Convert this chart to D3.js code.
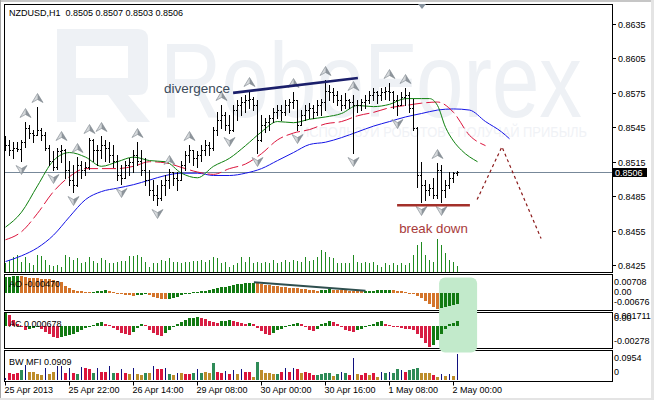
<!DOCTYPE html>
<html><head><meta charset="utf-8">
<script src="https://cdn.jsdelivr.net/npm/d3@7/dist/d3.min.js"></script>
<style>html,body{margin:0;padding:0;background:#fff;overflow:hidden}svg{display:block}</style>
</head><body>
<script>
// ---------------- DATA ----------------
const symbolTitle = "NZDUSD,H1  0.8505 0.8507 0.8503 0.8506";
const timeLabels = ['25 Apr 2013','25 Apr 22:00','26 Apr 14:00','29 Apr 08:00','30 Apr 00:00','30 Apr 16:00','1 May 08:00','2 May 00:00'];
const timeIdx = [0,16,32,48,64,80,96,112];
const priceTicks = [0.8635,0.8605,0.8575,0.8545,0.8515,0.8485,0.8455,0.8425];
const lastPrice = 0.8506;

const open = [.8533,.8530,.8525,.8527,.8526,.8532,.8544,.8540,.8538,.8543,
 .8538,.8527,.8516,.8510,.8524,.8525,.8508,.8499,.8495,.8512,
 .8508,.8510,.8534,.8525,.8525,.8530,.8527,.8521,.8516,.8503,
 .8501,.8512,.8515,.8521,.8516,.8508,.8499,.8490,.8486,.8483,
 .8495,.8499,.8506,.8501,.8499,.8512,.8521,.8525,.8518,.8521,
 .8525,.8530,.8527,.8543,.8551,.8556,.8547,.8543,.8560,.8564,
 .8567,.8569,.8570,.8564,.8534,.8547,.8550,.8553,.8558,.8560,
 .8558,.8564,.8567,.8569,.8547,.8556,.8560,.8562,.8558,.8564,
 .8567,.8577,.8576,.8573,.8569,.8564,.8569,.8567,.8564,.8564,
 .8567,.8569,.8573,.8576,.8573,.8576,.8577,.8576,.8569,.8564,
 .8571,.8573,.8562,.8544,.8503,.8495,.8490,.8492,.8486,.8508,
 .8490,.8495,.8501,.8505];
const high = [.8537,.8534,.8532,.8532,.8534,.8550,.8547,.8543,.8563,.8544,
 .8541,.8530,.8524,.8527,.8530,.8526,.8516,.8512,.8519,.8516,
 .8515,.8536,.8535,.8530,.8537,.8534,.8532,.8530,.8521,.8512,
 .8516,.8518,.8525,.8532,.8525,.8518,.8508,.8499,.8495,.8499,
 .8503,.8509,.8506,.8506,.8516,.8524,.8530,.8525,.8524,.8530,
 .8534,.8532,.8545,.8558,.8564,.8558,.8556,.8564,.8569,.8571,
 .8573,.8577,.8571,.8569,.8556,.8553,.8556,.8562,.8564,.8564,
 .8569,.8570,.8576,.8569,.8560,.8564,.8566,.8564,.8569,.8570,
 .8586,.8582,.8579,.8577,.8573,.8575,.8570,.8573,.8569,.8570,
 .8573,.8577,.8579,.8577,.8579,.8580,.8584,.8577,.8573,.8576,
 .8579,.8576,.8570,.8545,.8515,.8499,.8496,.8501,.8514,.8512,
 .8499,.8506,.8506,.8507];
const low = [.8525,.8521,.8518,.8524,.8516,.8528,.8536,.8532,.8538,.8534,
 .8525,.8512,.8508,.8509,.8515,.8501,.8495,.8489,.8494,.8501,
 .8503,.8509,.8516,.8512,.8518,.8516,.8515,.8510,.8499,.8496,
 .8501,.8503,.8506,.8512,.8503,.8495,.8486,.8482,.8477,.8482,
 .8486,.8492,.8495,.8490,.8499,.8508,.8515,.8512,.8510,.8516,
 .8521,.8521,.8525,.8538,.8544,.8543,.8540,.8542,.8551,.8556,
 .8558,.8562,.8560,.8523,.8533,.8541,.8543,.8550,.8553,.8551,
 .8556,.8558,.8562,.8543,.8547,.8551,.8553,.8553,.8556,.8556,
 .8560,.8569,.8567,.8564,.8560,.8562,.8562,.8523,.8558,.8560,
 .8562,.8566,.8569,.8566,.8569,.8570,.8569,.8562,.8556,.8564,
 .8564,.8558,.8543,.8493,.8480,.8482,.8486,.8483,.8483,.8480,
 .8484,.8492,.8497,.8503];
const close = [.8530,.8525,.8527,.8526,.8532,.8544,.8540,.8538,.8543,.8538,
 .8527,.8516,.8510,.8524,.8525,.8508,.8499,.8495,.8512,.8508,
 .8510,.8534,.8525,.8525,.8530,.8527,.8521,.8516,.8503,.8501,
 .8512,.8515,.8521,.8516,.8508,.8499,.8490,.8486,.8483,.8495,
 .8499,.8506,.8501,.8499,.8512,.8521,.8525,.8518,.8521,.8525,
 .8530,.8527,.8543,.8551,.8556,.8547,.8543,.8560,.8564,.8567,
 .8569,.8570,.8564,.8534,.8547,.8550,.8553,.8558,.8560,.8558,
 .8564,.8567,.8569,.8547,.8556,.8560,.8562,.8558,.8564,.8567,
 .8577,.8576,.8573,.8569,.8564,.8569,.8567,.8564,.8564,.8567,
 .8569,.8573,.8576,.8573,.8576,.8577,.8576,.8569,.8564,.8571,
 .8573,.8562,.8544,.8503,.8495,.8490,.8492,.8486,.8508,.8490,
 .8495,.8501,.8505,.8506];
const volume = [348,480,612,680,412,612,348,280,680,640,
 480,280,240,280,212,680,612,480,548,372,
 412,588,440,372,548,480,348,348,412,452,
 440,640,640,668,612,412,212,372,348,480,
 452,548,412,412,348,412,412,452,452,480,
 412,480,612,548,372,412,212,280,348,612,
 412,588,348,412,348,412,348,480,348,412,
 480,412,480,452,412,612,440,480,600,880,
 812,612,548,348,372,372,348,680,412,348,
 412,348,412,280,212,348,280,348,280,348,
 280,348,680,1080,1212,680,480,412,1308,1080,
 748,480,412,240];

// Alligator (bar index, price)
const jawIdx = [0,4,8,12,16,20,24,28,32,36,40,44,48,52,56,60,64,68,72,76,80,84,88,92,96,100,104,108,112,116,120,124,126];
const jaw = [.8428,.8433,.8440,.8451,.8467,.8482,.8489,.8492,.8495,.8499,.8503,.8505,.8505,.8503,.8503,.8505,.8509,.8516,.8523,.8530,.8532,.8536,.8541,.8546,.8550,.8554,.8557,.8560,.8561,.8560,.8550,.8541,.8535];
const teethIdx = [0,4,8,12,16,20,24,28,32,36,40,44,48,52,56,60,64,68,72,76,80,84,88,92,96,100,104,108,112,116,120];
const teeth = [.8447,.8454,.8470,.8489,.8502,.8509,.8509,.8509,.8511,.8515,.8514,.8510,.8506,.8504,.8509,.8513,.8522,.8534,.8540,.8543,.8548,.8550,.8555,.8558,.8562,.8564,.8566,.8567,.8558,.8538,.8529];
const lipsIdx = [0,4,8,12,16,20,24,28,32,36,40,44,48,52,56,60,64,68,72,76,80,84,88,92,96,100,104,106,108,110,112,114,118];
const lips = [.8458,.8471,.8494,.8516,.8523,.8519,.8511,.8515,.8519,.8516,.8515,.8505,.8501,.8511,.8518,.8529,.8541,.8550,.8549,.8552,.8554,.8557,.8564,.8563,.8565,.8570,.8570,.8570,.8564,.8545,.8533,.8525,.8515];

const upFractals = [5,8,14,18,21,24,33,41,46,54,61,72,80,87,96,100,108];
const downFractals = [4,12,17,29,38,56,63,73,87,98,104,109];

// annotations (bar index, price)
const divergenceLine = [[56.9,0.8575],[88.1,0.8588]];
const breakLine = [[97.9,0.8477],[116.1,0.8477]];
const forecast = [[117.9,0.8482],[124.1,0.8528],[133.9,0.8448]];

// Awesome Oscillator
const ao = [.0066,.0068,.0070,.00708,.0069,.0066,.0064,.0063,.0062,.0060,
 .0058,.0056,.0053,.0049,.0044,.0030,.0020,.0012,.0008,.0005,
 .0003,.0002,.0003,.0006,.0009,.0010,.0006,.0002,-.0003,-.0007,
 -.0010,-.0012,-.0013,-.0010,-.0008,-.0007,-.0012,-.0018,-.0023,-.0027,
 -.0029,-.0026,-.0022,-.0017,-.0012,-.0007,-.0003,.0001,.0003,.0006,
 .0008,.0010,.0014,.0018,.0023,.0026,.0029,.0032,.0035,.0037,
 .0039,.0041,.0043,.0040,.0036,.0033,.0031,.0029,.0027,.0025,
 .0023,.0021,.0020,.0019,.0017,.0016,.0013,.0011,.0009,.0011,
 .0013,.0014,.0013,.0012,.0011,.0010,.0009,.0008,.0007,.0006,
 .0007,.0008,.0009,.0010,.0011,.0012,.0013,.0011,.0008,.0005,
 .0002,-.0002,-.0006,-.0013,-.0022,-.0035,-.0048,-.0060,-.00676,-.0066,
 -.0061,-.0057,-.0052,-.0047];
const aoTicks = ['0.00708','0.00','-0.00676'];
const aoDivergence = [[62.1,0.0044],[90,0.00082]];

// Accelerator Oscillator
const ac = [.0017,.0015,.0008,.0003,-.0002,-.0005,-.0004,-.0003,-.0002,-.0004,
 -.0008,-.0011,-.0014,-.0016,-.0015,-.0013,-.0012,-.0010,-.0008,-.0006,
 -.0003,-.0001,.0001,.0004,.0005,.0003,.0001,-.0003,-.0006,-.0009,
 -.0011,-.0012,-.0008,-.0003,.0002,.0001,-.0005,-.0009,-.0012,-.0013,
 -.0009,-.0005,-.0002,.0003,.0005,.0008,.0010,.0011,.0012,.0011,
 .0009,.0007,.0005,.0004,.0006,.0007,.0008,.0006,.0005,.0004,
 .0003,.0004,.0002,-.0003,-.0007,-.0010,-.0012,-.0009,-.0006,-.0004,
 -.0002,.0001,.0003,.0004,.0002,-.0002,-.0005,-.0007,-.0004,.0002,
 .0004,.0006,.0005,.0003,-.0002,-.0006,-.0007,-.0008,-.0006,-.0004,
 -.0002,.0001,.0003,.0005,.0006,.0003,.0001,-.0001,-.0002,-.0003,
 -.00035,-.0004,-.0006,-.0010,-.0016,-.0022,-.00278,-.0025,-.0019,-.0010,
 -.0004,.0002,.0004,.000678];
const acTicks = ['0.001711','0.00','-0.00278'];

// Market Facilitation Index (value, type: g=green, f=fade, k=fake, s=squat)
const mfi = [.008,.024,.022,.024,.035,.052,.028,.028,.020,.017,
 .042,.022,.030,.049,.049,.024,.042,.024,.020,.045,
 .043,.040,.026,.043,.030,.030,.049,.026,.026,.038,
 .024,.020,.043,.020,.018,.026,.025,.049,.040,.038,
 .042,.020,.018,.026,.024,.022,.022,.024,.040,.026,
 .028,.026,.059,.028,.026,.032,.020,.035,.022,.040,
 .028,.028,.012,.064,.035,.026,.024,.022,.020,.028,
 .043,.028,.043,.040,.026,.028,.026,.017,.017,.020,
 .026,.026,.014,.020,.030,.024,.018,.079,.020,.018,
 .024,.018,.024,.010,.030,.024,.030,.026,.040,.035,
 .028,.035,.038,.043,.026,.026,.026,.018,.012,.022,
 .014,.020,.014,.0909];
const mfiType = ("ksssgkffff"+"kffkksksgk"+"ssgksskgsk"+"sfkffgfkss"+"kgfkfssgkg"+
 "ffgsskskfk"+"ssfgffffgs"+"ksksfsssgg"+"ggfgkgskfs"+"sfsfkgkggk"+"sgggfffsfk"+"fkfk").split('');
const mfiTicks = ['0.0954','0'];

// ---------------- CHART ----------------
const W=654,H=400;
const FONT='"Liberation Sans", Arial, sans-serif';
const svg=d3.select('body').append('svg').attr('width',W).attr('height',H).attr('font-family',FONT);
const L=4.5,R=612.5;
const P={main:[4.5,272.5],ao:[274.5,310.5],ac:[312.5,348.5],bw:[350.5,381.5]};

const xs=d3.scaleLinear().domain([0,113]).range([5.5,457.5]);
const ys=d3.scaleLinear().domain([0.8425,0.8635]).range([265,24]);
const yv=d3.scaleLinear().domain([0,1600]).range([272,232]);
const ya=d3.scaleLinear().domain([-0.00676,0.00708]).range([308.5,276]);
const yc=d3.scaleLinear().domain([-0.00278,0.001711]).range([347,313]);
const yb=d3.scaleLinear().domain([0,0.0954]).range([380,353]);
const px=i=>Math.floor(xs(i));
const idx=d3.range(close.length);

// window chrome
svg.append('rect').attr('width',W).attr('height',H).attr('fill','#fff');
svg.append('rect').attr('x',0).attr('y',0).attr('width',W).attr('height',2).attr('fill','#c6c6c6');
svg.append('rect').attr('x',0).attr('y',0).attr('width',1).attr('height',H).attr('fill','#a6a6a6');
svg.append('rect').attr('x',651).attr('y',0).attr('width',3).attr('height',H).attr('fill','#e4e4e4');
svg.append('rect').attr('x',0).attr('y',398).attr('width',W).attr('height',2).attr('fill','#e4e4e4');

const defs=svg.append('defs');
Object.entries(P).forEach(([k,[t,b]])=>{
  defs.append('clipPath').attr('id','clip-'+k).append('rect').attr('x',L+0.5).attr('y',t+0.5).attr('width',R-L-1).attr('height',b-t-1);
});

// watermark
const wm=svg.append('g').attr('clip-path','url(#clip-main)');
wm.append('path').attr('fill','#eef1f5').attr('fill-rule','evenodd')
  .attr('d','M57,29H138Q148,29 148,39V85Q148,95 138,95H128L150,122H128L108,95H76V122H57Z M76,46H128V78H76Z');
wm.append('text').attr('x',160).attr('y',117).attr('font-size',105).attr('fill','#eef1f5')
  .attr('textLength',422).attr('lengthAdjust','spacingAndGlyphs').text('RoboForex');
wm.append('text').attr('x',300).attr('y',137).attr('font-size',14).attr('fill','#f0f2f6')
  .attr('textLength',287).attr('lengthAdjust','spacingAndGlyphs').text('ИСПОЛЬЗУЙ РОБОТОВ - ПОЛУЧАЙ ПРИБЫЛЬ');

// frames
Object.values(P).forEach(([t,b])=>{
  svg.append('rect').attr('x',L).attr('y',t).attr('width',R-L).attr('height',b-t)
    .attr('fill','none').attr('stroke','#000').attr('stroke-width',1);
});

const main=svg.append('g').attr('clip-path','url(#clip-main)');
// current price line
main.append('line').attr('x1',L).attr('x2',R)
  .attr('y1',Math.round(ys(lastPrice))+0.5).attr('y2',Math.round(ys(lastPrice))+0.5)
  .attr('stroke','#778899').attr('stroke-width',1);
// volumes
main.selectAll('rect.vol').data(idx).join('rect').attr('class','vol')
  .attr('x',i=>px(i)).attr('width',1)
  .attr('y',i=>Math.round(yv(volume[i]))).attr('height',i=>272-Math.round(yv(volume[i])))
  .attr('fill','#1f8a1f');
// alligator
const lineGen=d3.line().x(d=>xs(d[0])).y(d=>ys(d[1])).curve(d3.curveMonotoneX);
main.append('path').attr('d',lineGen(jawIdx.map((k,j)=>[k,jaw[j]]))).attr('fill','none').attr('stroke','#1414e6').attr('stroke-width',1);
main.append('path').attr('d',lineGen(teethIdx.map((k,j)=>[k,teeth[j]]))).attr('fill','none').attr('stroke','#dc143c').attr('stroke-width',1).attr('stroke-dasharray','14,4');
main.append('path').attr('d',lineGen(lipsIdx.map((k,j)=>[k,lips[j]]))).attr('fill','none').attr('stroke','#0e800e').attr('stroke-width',1);
// OHLC bars
main.selectAll('path.bar').data(idx).join('path').attr('class','bar')
  .attr('d',i=>{const n=px(i);const yh=Math.round(ys(high[i])),yl=Math.round(ys(low[i]));
    const yo=Math.round(ys(open[i]))+0.5,yc2=Math.round(ys(close[i]))+0.5;
    return `M${n+0.5},${yh}V${yl+1}M${n-1},${yo}H${n+0.5}M${n+0.5},${yc2}H${n+2}`;})
  .attr('fill','none').attr('stroke','#000').attr('stroke-width',1);
// fractals
function arrow(g,up){
  const s=up?1:-1;
  g.append('path').attr('d',`M0,${-4.5*s}L0,${1.5*s}L-5.5,${4.5*s}Z`).attr('fill','#d6d9dc');
  g.append('path').attr('d',`M0,${-4.5*s}L5.5,${4.5*s}L0,${1.5*s}Z`).attr('fill','#8e959c');
  g.append('path').attr('d',`M0,${-4.5*s}L5.5,${4.5*s}L0,${1.5*s}L-5.5,${4.5*s}Z`).attr('fill','none').attr('stroke','#7c848c').attr('stroke-width',0.6);
}
upFractals.forEach(i=>{arrow(main.append('g').attr('transform',`translate(${px(i)+0.5},${Math.round(ys(high[i]))-9})`),true);});
downFractals.forEach(i=>{arrow(main.append('g').attr('transform',`translate(${px(i)+0.5},${Math.round(ys(low[i]))+9})`),false);});
// annotations
const annLine=d3.line().x(d=>xs(d[0])).y(d=>ys(d[1]));
main.append('path').attr('d',annLine(divergenceLine)).attr('stroke','#1b1f6b').attr('stroke-width',2.6).attr('fill','none');
main.append('text').attr('x',xs(divergenceLine[0][0])-3).attr('y',ys(divergenceLine[0][1])+0.5)
  .attr('text-anchor','end').attr('font-size',13.5).attr('fill','#3a4a5a').text('divergence');
main.append('path').attr('d',annLine(breakLine)).attr('stroke','#a3302a').attr('stroke-width',2.6).attr('fill','none');
main.append('text').attr('x',(xs(breakLine[0][0])+xs(breakLine[1][0]))/2).attr('y',ys(breakLine[0][1])+28)
  .attr('text-anchor','middle').attr('font-size',13.3).attr('fill','#a83a3a').text('break down');
main.append('path').attr('d',annLine(forecast)).attr('stroke','#8b1a1a').attr('stroke-width',1.2)
  .attr('stroke-dasharray','3,3').attr('fill','none');
// title
svg.append('text').attr('x',9).attr('y',15.5).attr('font-size',9).attr('fill','#000').style('white-space','pre').text(symbolTitle);
// shift marker
svg.append('path').attr('d','M418,4L426,4L422,9Z').attr('fill','#86929e');

// right price axis
priceTicks.forEach(p=>{
  const y=Math.round(ys(p))+0.5;
  svg.append('line').attr('x1',R).attr('x2',616).attr('y1',y).attr('y2',y).attr('stroke','#000');
  svg.append('text').attr('x',618).attr('y',y+3).attr('font-size',9).text(d3.format('.4f')(p));
});
{
  const y=Math.round(ys(lastPrice));
  svg.append('rect').attr('x',613).attr('y',y-4).attr('width',34).attr('height',9).attr('fill','#000');
  svg.append('text').attr('x',615).attr('y',y+3.5).attr('font-size',9).attr('fill','#fff').text(d3.format('.4f')(lastPrice));
}

// highlight box
svg.append('rect').attr('x',xs(108.4)).attr('y',277.5).attr('width',xs(117.9)-xs(108.4)).attr('height',75)
  .attr('rx',6).attr('fill','#c2eacb');

// AO
const gAO=svg.append('g').attr('clip-path','url(#clip-ao)');
const ao0=Math.round(ya(0));
gAO.selectAll('rect').data(idx).join('rect')
  .attr('x',i=>px(i)-1).attr('width',3)
  .attr('y',i=>ao[i]>=0?Math.min(ao0-1,Math.round(ya(ao[i]))):ao0)
  .attr('height',i=>Math.max(1,Math.abs(Math.round(ya(ao[i]))-ao0)))
  .attr('fill',i=>(i===0||ao[i]>ao[i-1])?'#127a12':'#d4742a');
gAO.append('path').attr('d',d3.line().x(d=>xs(d[0])).y(d=>ya(d[1]))(aoDivergence)).attr('stroke','#2f4f4f').attr('stroke-width',2).attr('fill','none');
svg.append('text').attr('x',9).attr('y',287).attr('font-size',9).text('AO -0.00470');
// AC
const gAC=svg.append('g').attr('clip-path','url(#clip-ac)');
const ac0=Math.round(yc(0));
gAC.selectAll('rect').data(idx).join('rect')
  .attr('x',i=>px(i)-1).attr('width',3)
  .attr('y',i=>ac[i]>=0?Math.min(ac0-1,Math.round(yc(ac[i]))):ac0)
  .attr('height',i=>Math.max(1,Math.abs(Math.round(yc(ac[i]))-ac0)))
  .attr('fill',i=>(i===0||ac[i]>ac[i-1])?'#127a12':'#d81e43');
svg.append('text').attr('x',9).attr('y',326.5).attr('font-size',9).text('AC 0.000678');
// BW MFI
const gBW=svg.append('g').attr('clip-path','url(#clip-bw)');
const mfiColor={g:'#2e8b57',f:'#bd8d2a',k:'#10107e',s:'#dc143c'};
gBW.selectAll('rect').data(idx).join('rect')
  .attr('x',i=>mfiType[i]==='k'?px(i):px(i)-1).attr('width',i=>mfiType[i]==='k'?1:3)
  .attr('y',i=>Math.round(yb(mfi[i]))).attr('height',i=>380-Math.round(yb(mfi[i])))
  .attr('fill',i=>mfiColor[mfiType[i]]);
svg.append('text').attr('x',9).attr('y',364.5).attr('font-size',9).text('BW MFI 0.0909');

// sub-panel axis labels
const subLab=(txt,y)=>svg.append('text').attr('x',614).attr('y',y).attr('font-size',9).text(txt);
subLab(aoTicks[0],284.5); subLab(aoTicks[1],294.5); subLab(aoTicks[2],304.5);
subLab(acTicks[0],319); subLab(acTicks[1],321); subLab(acTicks[2],343.5);
subLab(mfiTicks[0],360.5); subLab(mfiTicks[1],375);

// time axis
timeIdx.forEach((k,j)=>{
  const x=px(k)+0.5;
  svg.append('line').attr('x1',x).attr('x2',x).attr('y1',381.5).attr('y2',385.5).attr('stroke','#000');
  svg.append('text').attr('x',x-1).attr('y',392.5).attr('font-size',9).text(timeLabels[j]);
});
</script>
</body></html>
